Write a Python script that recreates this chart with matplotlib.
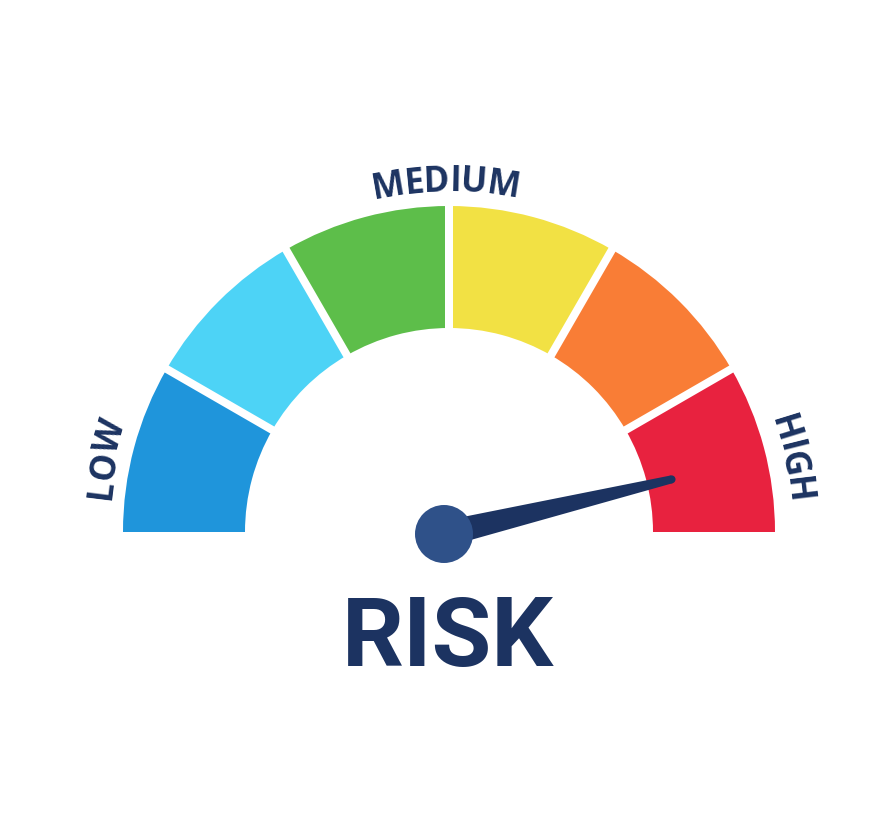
import matplotlib
matplotlib.use("Agg")
import matplotlib.pyplot as plt
import numpy as np
from matplotlib.patches import Wedge, Circle, Polygon
from matplotlib.font_manager import FontProperties
from matplotlib.textpath import TextToPath

# gauge data
levels = ["LOW", "", "MEDIUM", "", "", "HIGH"]
segment_colors = ["#1F95DB", "#4DD3F6", "#5DBE4A", "#F2E144", "#F97D36", "#E8223F"]
risk_value = 92.5          # percent of the dial (0 = far left, 100 = far right)

NAVY = "#1C3361"
HUB = "#2F5189"
DPI = 100

fig = plt.figure(figsize=(8.9, 8.33), dpi=DPI)
ax = fig.add_axes([0, 0, 1, 1])
ax.set_xlim(0, 890)
ax.set_ylim(0, 833)
ax.set_aspect("equal")
ax.axis("off")

cx, cy = 449, 833 - 532
r_out, r_in = 326, 204
n = len(segment_colors)
step = 180.0 / n

for i, col in enumerate(segment_colors):
    a1 = 180 - (i + 1) * step
    a2 = 180 - i * step
    ax.add_patch(Wedge((cx, cy), r_out, a1, a2, width=r_out - r_in,
                       facecolor=col, edgecolor="none"))

# white gaps between segments
for i in range(1, n):
    a = np.radians(180 - i * step)
    ax.plot([cx + (r_in - 6) * np.cos(a), cx + (r_out + 6) * np.cos(a)],
            [cy + (r_in - 6) * np.sin(a), cy + (r_out + 6) * np.sin(a)],
            color="white", lw=8 * 72 / DPI, solid_capstyle="butt", zorder=3)


def arc_text(s, theta_c, radius, size, family):
    # place letters one by one along the circle, reading clockwise
    fp = FontProperties(family=family, weight="bold", size=size)
    ttp = TextToPath()
    def w(t):
        if not t:
            return 0.0
        return ttp.get_text_width_height_descent(t, fp, ismath=False)[0] * DPI / 72
    total = w(s)
    for k, ch in enumerate(s):
        mid = (w(s[:k]) + w(s[:k + 1])) / 2 - total / 2
        th = np.radians(theta_c) - mid / radius
        ax.text(cx + radius * np.cos(th), cy + radius * np.sin(th), ch,
                fontproperties=fp, color=NAVY, ha="center", va="center",
                rotation=np.degrees(th) - 90, rotation_mode="anchor", zorder=5)


label_angles = {"LOW": 168, "MEDIUM": 90.5, "HIGH": 12}
for lab in levels:
    if lab:
        arc_text(lab, label_angles[lab], 350, 25, "Open Sans")

# needle
hx, hy = 444, 833 - 534
ang = np.radians(180 * (1 - risk_value / 100))
length = 234
tx, ty = hx + length * np.cos(ang), hy + length * np.sin(ang)
px, py = -np.sin(ang), np.cos(ang)
w_base, w_tip = 13, 4
ax.add_patch(Polygon([(hx + px * w_base, hy + py * w_base),
                      (tx + px * w_tip, ty + py * w_tip),
                      (tx - px * w_tip, ty - py * w_tip),
                      (hx - px * w_base, hy - py * w_base)],
                     closed=True, facecolor=NAVY, edgecolor="none", zorder=6))
ax.add_patch(Circle((tx, ty), w_tip, facecolor=NAVY, edgecolor="none", zorder=6))
ax.add_patch(Circle((hx, hy), 29, facecolor=HUB, edgecolor="none", zorder=7))

ax.text(448, 833 - 640, "RISK", fontfamily="Roboto", fontweight="bold",
        fontsize=70, color=NAVY, ha="center", va="center")

fig.savefig("out.png", dpi=DPI, facecolor="white")
